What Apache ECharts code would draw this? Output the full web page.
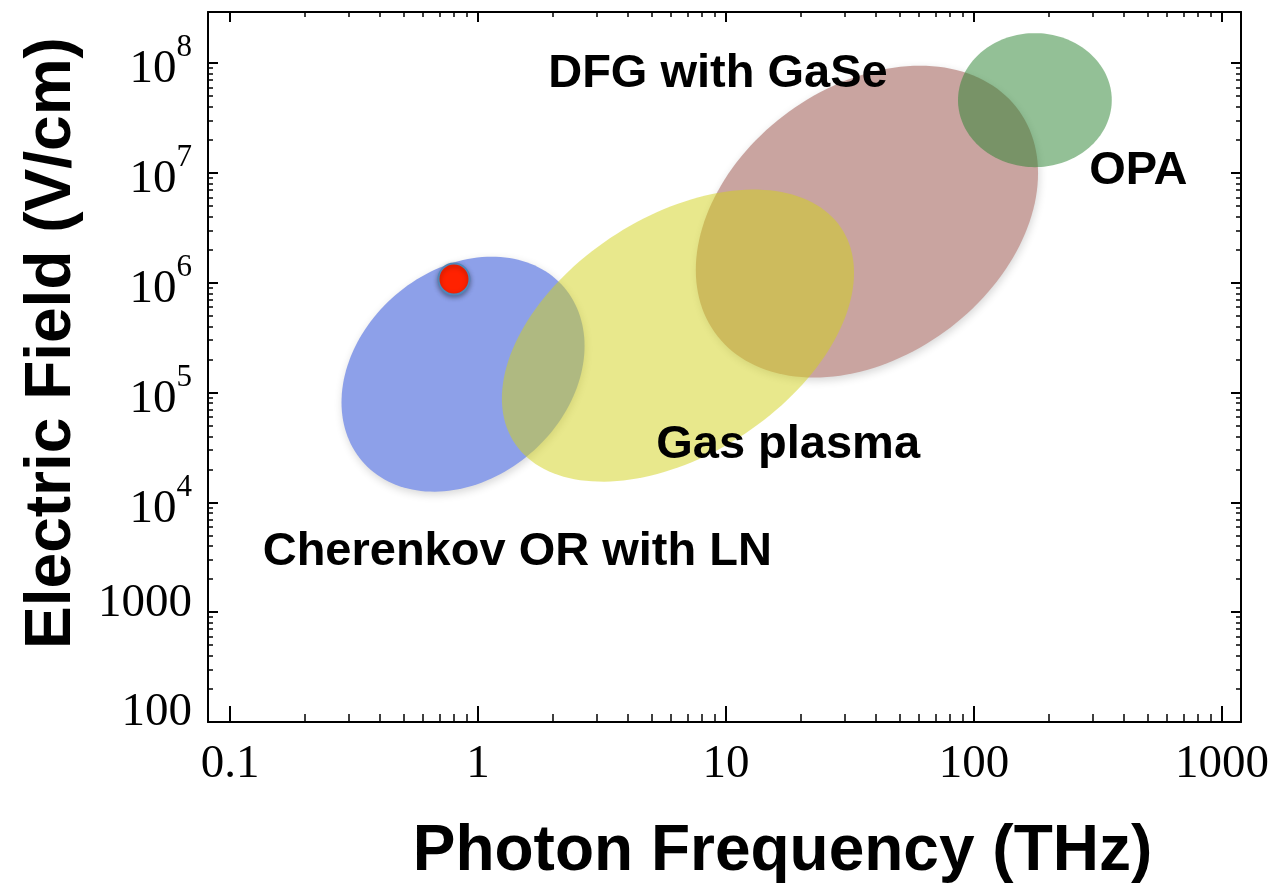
<!DOCTYPE html>
<html>
<head>
<meta charset="utf-8">
<script src="https://cdn.jsdelivr.net/npm/echarts@6/dist/echarts.min.js"></script>
<style>
  html, body { margin: 0; padding: 0; background: #ffffff; }
  #chart { width: 1274px; height: 883px; }
</style>
</head>
<body>
<div id="chart"></div>
<script>
// THz source regions: centre (THz, V/cm), half extents in decades, tilt between log f and log E
const regionNames = ['Cherenkov OR with LN', 'DFG with GaSe', 'Gas plasma', 'OPA'];
const regionFreq = [0.87, 37, 6.4, 176];
const regionField = [1.47e5, 3.6e6, 3.3e5, 4.6e7];
const regionHalfFreqDec = [0.49, 0.69, 0.71, 0.31];
const regionHalfFieldDec = [1.07, 1.42, 1.33, 0.61];
const regionTilt = [0.24, 0.31, 0.43, 0.0];
const regionColors = ['#8da0e9', '#c9a4a0', 'rgba(209,209,25,0.5)', 'rgba(39,129,45,0.5)'];
// only the opaque shapes cast a soft shadow (a shadow would show through a translucent fill)
const regionShadow = [true, true, false, false];

// Region captions and where they sit (THz, V/cm)
const captionTexts = ['DFG with GaSe', 'OPA', 'Gas plasma', 'Cherenkov OR with LN'];
const captionFreq = [9.28, 460, 17.8, 1.44];
const captionField = [8.0e7, 1.05e7, 3.31e4, 3.55e3];

// Highlighted measurement
const pointFreq = [0.8];
const pointField = [1.08e6];

// Axis ticks
const xTicks = [0.1, 1, 10, 100, 1000];
const xTickLabels = ['0.1', '1', '10', '100', '1000'];
const yTicks = [1e2, 1e3, 1e4, 1e5, 1e6, 1e7, 1e8];
const yTickLabels = ['100', '1000', '10^4', '10^5', '10^6', '10^7', '10^8'];

const X_MIN = 0.0815, X_MAX = 1193;
const Y_MIN = 100, Y_MAX = 2.92e8;

function minorTicks(fromExp, toExp) {
  const out = [];
  for (let e = fromExp; e < toExp; e++) {
    for (let m = 2; m <= 9; m++) out.push(m * Math.pow(10, e));
  }
  return out;
}
const xMinor = minorTicks(-1, 3);
const yMinor = minorTicks(2, 8);

function tickIndex(list, v) {
  const lv = Math.log10(v);
  return list.findIndex(t => Math.abs(Math.log10(t) - lv) < 1e-6);
}

const SERIF = '"Liberation Serif", "Times New Roman", serif';
const SANS = '"Liberation Sans", Arial, Helvetica, sans-serif';

function logAxis(extra, min, max) {
  return Object.assign({
    type: 'log',
    logBase: 10,
    min: min,
    max: max,
    splitLine: { show: false },
    axisLine: { show: false, onZero: false },
    axisLabel: { show: false },
    nameMoveOverlap: false
  }, extra);
}

function tickSet(values, len, width) {
  return {
    show: true,
    inside: true,
    length: len,
    customValues: values,
    lineStyle: { color: '#000', width: width }
  };
}

const frameLine = { show: true, onZero: false, lineStyle: { color: '#000', width: 2 } };

const chart = echarts.init(document.getElementById('chart'), null, { renderer: 'canvas' });

const option = {
  backgroundColor: '#ffffff',
  animation: false,
  grid: {
    left: 208, right: 33, top: 12, bottom: 161,
    containLabel: false,
    outerBoundsMode: 'none'
  },
  xAxis: [
    logAxis({
      position: 'bottom',
      axisLine: frameLine,
      axisTick: tickSet(xTicks, 16, 2),
      axisLabel: {
        show: true,
        customValues: xTicks,
        margin: 19,
        color: '#000',
        fontFamily: SERIF,
        fontSize: 47,
        formatter: v => xTickLabels[tickIndex(xTicks, v)]
      },
      name: 'Photon Frequency (THz)',
      nameLocation: 'middle',
      nameGap: 98,
      nameTextStyle: {
        color: '#000', fontFamily: SANS, fontWeight: 'bold', fontSize: 64,
        padding: [0, 0, 0, 116]
      }
    }, X_MIN, X_MAX),
    logAxis({ position: 'top', axisLine: frameLine, axisTick: tickSet(xTicks, 10, 2) }, X_MIN, X_MAX),
    logAxis({ position: 'bottom', axisTick: tickSet(xMinor, 8, 1.5) }, X_MIN, X_MAX),
    logAxis({ position: 'top', axisTick: tickSet(xMinor, 5, 1.5) }, X_MIN, X_MAX)
  ],
  yAxis: [
    logAxis({
      position: 'left',
      axisLine: frameLine,
      axisTick: tickSet(yTicks, 10, 2),
      axisLabel: {
        show: true,
        customValues: yTicks,
        margin: 16,
        color: '#000',
        fontFamily: SERIF,
        formatter: v => {
          const t = yTickLabels[tickIndex(yTicks, v)];
          if (t.indexOf('^') >= 0) {
            const parts = t.split('^');
            return '{b|' + parts[0] + '}{s|' + parts[1] + '}';
          }
          return '{n|' + t + '}';
        },
        rich: {
          b: { fontFamily: SERIF, fontSize: 47, color: '#000', padding: [14, 0, 0, 0] },
          s: { fontFamily: SERIF, fontSize: 31, color: '#000', verticalAlign: 'top' },
          n: { fontFamily: SERIF, fontSize: 47, color: '#000', padding: [0, 0, 18, 0] }
        }
      },
      name: 'Electric Field (V/cm)',
      nameLocation: 'middle',
      nameGap: 124,
      nameTextStyle: {
        color: '#000', fontFamily: SANS, fontWeight: 'bold', fontSize: 64,
        padding: [0, 0, 0, 48]
      }
    }, Y_MIN, Y_MAX),
    logAxis({ position: 'right', axisLine: frameLine, axisTick: tickSet(yTicks, 10, 2) }, Y_MIN, Y_MAX),
    logAxis({ position: 'left', axisTick: tickSet(yMinor, 5, 1.5) }, Y_MIN, Y_MAX),
    logAxis({ position: 'right', axisTick: tickSet(yMinor, 5, 1.5) }, Y_MIN, Y_MAX)
  ],
  series: [
    {
      name: 'regions',
      type: 'custom',
      xAxisIndex: 0,
      yAxisIndex: 0,
      clip: true,
      encode: { x: 0, y: 1 },
      data: regionNames.map((n, i) => ({
        name: n,
        value: [regionFreq[i], regionField[i], regionHalfFreqDec[i], regionHalfFieldDec[i], regionTilt[i]]
      })),
      renderItem: function (params, api) {
        const i = params.dataIndex;
        const lx = Math.log10(api.value(0));
        const ly = Math.log10(api.value(1));
        const a = api.value(2), b = api.value(3), r = api.value(4);
        const q = Math.sqrt(1 - r * r);
        const pts = [];
        const N = 160;
        for (let k = 0; k < N; k++) {
          const t = k / N * Math.PI * 2;
          const px = lx + a * Math.cos(t);
          const py = ly + b * (r * Math.cos(t) + q * Math.sin(t));
          pts.push(api.coord([Math.pow(10, px), Math.pow(10, py)]));
        }
        const style = { fill: regionColors[i] };
        if (regionShadow[i]) {
          style.shadowBlur = 8;
          style.shadowOffsetX = 1;
          style.shadowOffsetY = 3;
          style.shadowColor = 'rgba(0,0,0,0.16)';
        }
        return { type: 'polygon', shape: { points: pts }, style: style };
      },
      z: 2
    },
    {
      name: 'captions',
      type: 'custom',
      xAxisIndex: 0,
      yAxisIndex: 0,
      encode: { x: 0, y: 1 },
      data: captionTexts.map((t, i) => ({ name: t, value: [captionFreq[i], captionField[i]] })),
      renderItem: function (params, api) {
        const p = api.coord([api.value(0), api.value(1)]);
        return {
          type: 'text',
          x: p[0],
          y: p[1],
          style: {
            text: captionTexts[params.dataIndex],
            fill: '#000',
            font: 'bold 47px ' + SANS,
            align: 'center',
            verticalAlign: 'middle'
          }
        };
      },
      z: 4
    },
    {
      name: 'measurement',
      type: 'scatter',
      xAxisIndex: 0,
      yAxisIndex: 0,
      data: pointFreq.map((f, i) => [f, pointField[i]]),
      symbol: 'circle',
      symbolSize: 31,
      itemStyle: {
        color: '#ff2200',
        borderColor: '#4f86b8',
        borderWidth: 2,
        opacity: 1,
        shadowBlur: 5,
        shadowOffsetY: 2,
        shadowColor: 'rgba(0,0,0,0.35)'
      },
      z: 5
    }
  ]
};

chart.setOption(option);
</script>
</body>
</html>
